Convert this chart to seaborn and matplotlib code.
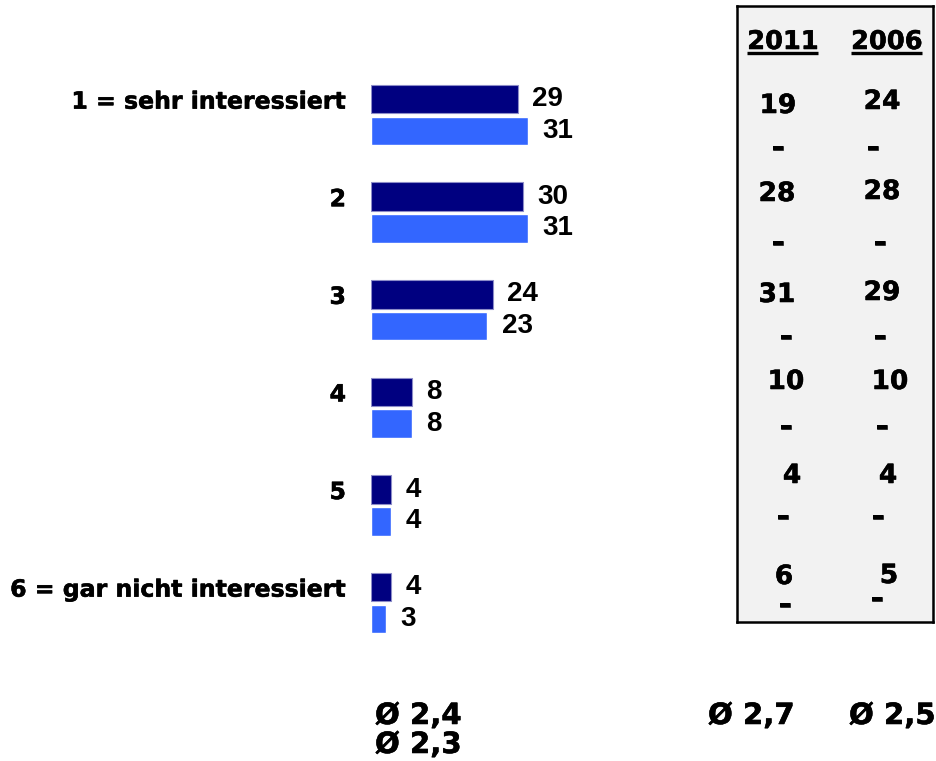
import numpy as np
import pandas as pd
import matplotlib
matplotlib.use("Agg")
import matplotlib.pyplot as plt
import matplotlib.patheffects as pe
import seaborn as sns

# Daten
kategorien = ["1 = sehr interessiert", "2", "3", "4", "5", "6 = gar nicht interessiert"]
serie_a = [29, 30, 24, 8, 4, 4]     # dunkelblau
serie_b = [31, 31, 23, 8, 4, 3]     # hellblau
jahre = ["2011", "2006"]
werte_2011 = [19, 28, 31, 10, 4, 6]
werte_2006 = [24, 28, 29, 10, 4, 5]
mittel_bars = ["Ø 2,4", "Ø 2,3"]
mittel_tab = ["Ø 2,7", "Ø 2,5"]

df = pd.DataFrame({
    "kategorie": kategorien * 2,
    "serie": ["A"] * 6 + ["B"] * 6,
    "wert": serie_a + serie_b,
})

W, H = 936, 761
sns.set_theme(style="white")
plt.rcParams["font.family"] = ["DejaVu Sans"]
plt.rcParams["text.color"] = "black"
plt.rcParams["ytick.color"] = "black"
fig = plt.figure(figsize=(W / 100, H / 100), dpi=100)

# etwas fetter, wie Tahoma Bold im Original
fett = [pe.withStroke(linewidth=0.4, foreground="black")]

def px_axes(x0, y0, x1, y1):
    return fig.add_axes([x0 / W, 1 - y1 / H, (x1 - x0) / W, (y1 - y0) / H])

# Balken
row0, row_step = 115, 97.6
ax = px_axes(371, row0 - row_step / 2, 371 + 5.065 * 50, row0 + 5.5 * row_step)
sns.barplot(data=df, y="kategorie", x="wert", hue="serie", orient="h",
            palette=["#000080", "#3366FF"], saturation=1, width=0.65, gap=0.1,
            order=kategorien, legend=False, ax=ax)
for p in ax.containers[0]:
    p.set_edgecolor("#8c8cc8")
    p.set_linewidth(0.8)
ax.set_xlim(0, 50)
ax.set_ylim(5.5, -0.5)
ax.set_xlabel("")
ax.set_ylabel("")
ax.set_xticks([])
ax.set_yticks(np.arange(6) - 0.1625)
ax.set_yticklabels(kategorien, fontsize=17, fontweight="bold", color="black")
for t in ax.get_yticklabels():
    t.set_path_effects(fett)
ax.tick_params(axis="y", length=0, pad=18)
for s in ax.spines.values():
    s.set_visible(False)
ax.patch.set_alpha(0)
for c in ax.containers:
    ax.bar_label(c, padding=10.5, fontsize=20, fontweight="bold",
                 family="Liberation Sans", color="black")

# Tabelle rechts
bx = px_axes(737, 6, 933, 622)
bx.set_xlim(737, 933)
bx.set_ylim(622, 6)
bx.set_facecolor("#f2f2f2")
bx.set_xticks([])
bx.set_yticks([])
for s in bx.spines.values():
    s.set_color("black")
    s.set_linewidth(1.8)

col_x = [783, 887]
for j, jahr in enumerate(jahre):
    bx.text(col_x[j], 42, jahr, ha="center", va="center", fontsize=18.5,
            fontweight="bold", path_effects=fett)
    bx.plot([col_x[j] - 36, col_x[j] + 35], [53, 53], color="black", lw=2.4, solid_capstyle="butt")

# leicht versetzte Positionen wie im Original
val_pos = [[(778, 106), (777, 194), (777, 295), (786, 382), (792, 476), (784, 577)],
           [(882, 102), (882, 192), (882, 293), (890, 382), (888, 476), (889, 576)]]
dash_pos = [[(778, 148), (778, 243), (786, 337), (786, 427), (783, 517), (785, 605)],
            [(873, 148), (880, 243), (880, 337), (882, 427), (878, 517), (877, 599)]]
for j, werte in enumerate([werte_2011, werte_2006]):
    for i, v in enumerate(werte):
        x, y = val_pos[j][i]
        bx.text(x, y, str(v), ha="center", va="center", fontsize=19,
                fontweight="bold", path_effects=fett)
        dx, dy = dash_pos[j][i]
        bx.text(dx, dy, "-", ha="center", va="center", fontsize=22,
                fontweight="bold", path_effects=fett)

# Durchschnittswerte
for txt, x, y in [(mittel_bars[0], 375, 716), (mittel_bars[1], 375, 745),
                  (mittel_tab[0], 708, 716), (mittel_tab[1], 849, 716)]:
    fig.text(x / W, 1 - y / H, txt, ha="left", va="center", fontsize=21,
             fontweight="bold", path_effects=fett)

fig.savefig("out.png", dpi=100)
